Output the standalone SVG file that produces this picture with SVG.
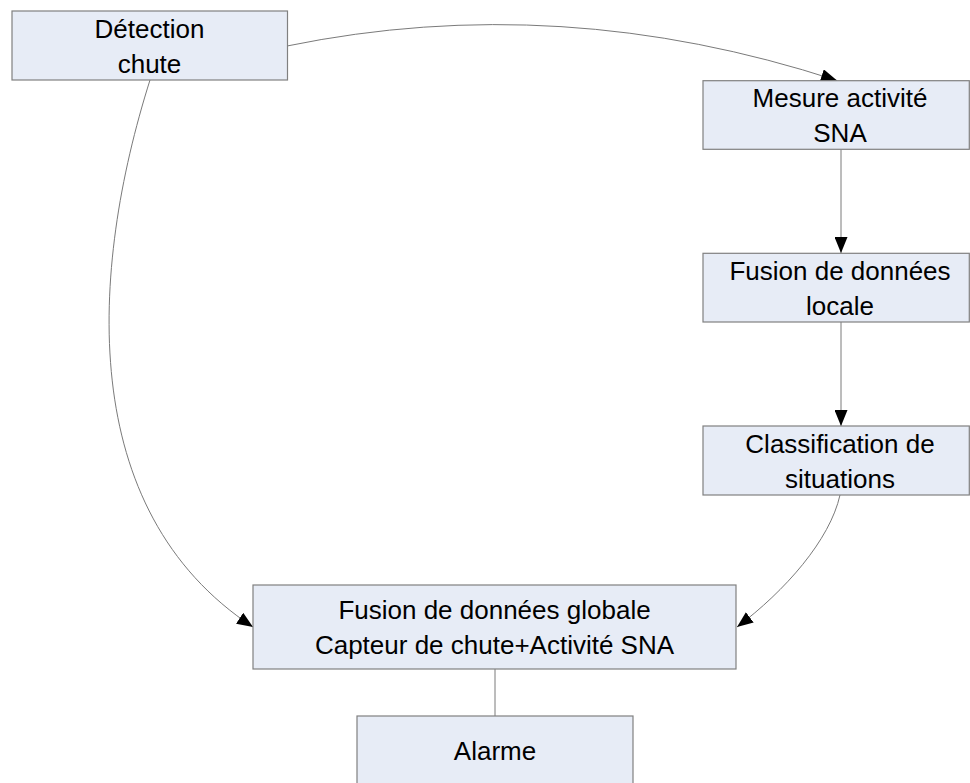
<svg xmlns="http://www.w3.org/2000/svg" width="970" height="783" viewBox="0 0 970 783">
<style>
.box{fill:#E7ECF6;stroke:#808080;stroke-width:1.2}
.lbl{font-family:"Liberation Sans",Arial,sans-serif;font-size:26px;fill:#000;text-anchor:middle}
.con{fill:none;stroke:#7a7a7a;stroke-width:1}
</style>
<defs>
<marker id="arr" markerUnits="userSpaceOnUse" markerWidth="16" markerHeight="13" refX="16" refY="6.5" orient="auto">
<path d="M0,0 L16,6.5 L0,13 z" fill="#000"/>
</marker>
</defs>
<rect width="970" height="783" fill="#fff"/>
<g id="connectors">
<path class="con" d="M287,46 Q560,-10 837,80.5" marker-end="url(#arr)"/>
<path class="con" d="M841,149.5 L841,253" marker-end="url(#arr)"/>
<path class="con" d="M841,322 L841,426" marker-end="url(#arr)"/>
<path class="con" d="M150,80 C90,270 75,510 253,627" marker-end="url(#arr)"/>
<path class="con" d="M840,495 C830,540 785,591 737,627" marker-end="url(#arr)"/>
<path class="con" d="M495,669 L495,716"/>
</g>
<g id="detection">
<rect class="box" x="12" y="11" width="275.5" height="69"/>
<text class="lbl" x="149.5" y="37.5">Détection</text>
<text class="lbl" x="149.5" y="72.5">chute</text>
</g>
<g id="mesure">
<rect class="box" x="703" y="80.7" width="266.3" height="68.6"/>
<text class="lbl" x="840" y="107">Mesure activité</text>
<text class="lbl" x="840" y="142">SNA</text>
</g>
<g id="fusion-locale">
<rect class="box" x="703" y="253.3" width="266.3" height="68.7"/>
<text class="lbl" x="840" y="280">Fusion de données</text>
<text class="lbl" x="840" y="315">locale</text>
</g>
<g id="classification">
<rect class="box" x="703" y="426" width="266.3" height="69"/>
<text class="lbl" x="840" y="452.5">Classification de</text>
<text class="lbl" x="840" y="487.5">situations</text>
</g>
<g id="fusion-globale">
<rect class="box" x="253" y="585" width="483" height="84"/>
<text class="lbl" x="494.5" y="619">Fusion de données globale</text>
<text class="lbl" x="494.5" y="654">Capteur de chute+Activité SNA</text>
</g>
<g id="alarme">
<rect class="box" x="357" y="716" width="276" height="72"/>
<text class="lbl" x="495" y="760">Alarme</text>
</g>
</svg>
